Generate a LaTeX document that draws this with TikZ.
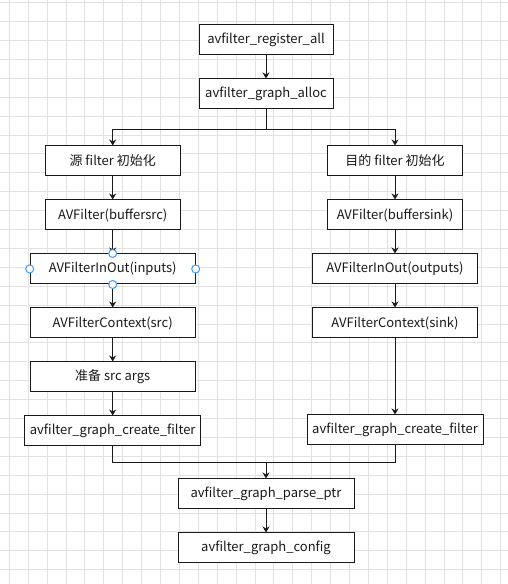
\documentclass[tikz,border=0pt]{standalone}
\usepackage{fontspec}
\setmainfont{Noto Sans CJK SC}
\usepackage{tikz}
\usetikzlibrary{arrows.meta, positioning}
\definecolor{ink}{HTML}{1A1A1A}
\definecolor{gridgray}{HTML}{E2E2E2}
\definecolor{handle}{HTML}{3D9BFF}

\begin{document}
\begin{tikzpicture}[
    x=1pt, y=1pt,
    node distance=23pt,
    n/.style={rectangle, draw=ink, fill=white, line width=1pt, text=ink,
              minimum width=134pt, minimum height=30pt, inner sep=0pt,
              font=\fontsize{13}{15}\selectfont},
    w/.style={n, minimum width=165pt},
    ww/.style={n, minimum width=176pt},
    e/.style={-{Stealth[length=6pt, width=7pt]}, line width=1pt, color=ink},
    l/.style={line width=1pt, color=ink},
    hdl/.style={circle, draw=handle, fill=white, line width=1pt,
                minimum size=8pt, inner sep=0pt}
]
\useasboundingbox (0,0) rectangle (508,584);
% grid
\foreach \i in {0,...,26}
  \draw[gridgray, line width=0.9pt] (9.3+18.9*\i,0) -- (9.3+18.9*\i,584);
\foreach \j in {0,...,30}
  \draw[gridgray, line width=0.9pt] (0,581.3-18.9*\j) -- (508,581.3-18.9*\j);

\node[n] (register) at (266,544) {avfilter\_register\_all};
\node[n, below=of register] (alloc) {avfilter\_graph\_alloc};

% src side
\node[n, minimum width=135pt] (srcinit) at (112.7,423) {源\ filter\ 初始化};
\node[n, minimum width=135pt, below=of srcinit] (srcfilt) {AVFilter(buffersrc)};
\node[w, below=of srcfilt] (inputs) {AVFilterInOut(inputs)};
\node[w, below=of inputs] (srcctx) {AVFilterContext(src)};
\node[w, below=of srcctx] (args) {准备\ src args};
\node[ww, below=of args] (srccreate) {avfilter\_graph\_create\_filter};

% sink side
\node[n, minimum width=135pt] (sinkinit) at (395,423) {目的\ filter\ 初始化};
\node[n, minimum width=135pt, below=of sinkinit] (sinkfilt) {AVFilter(buffersink)};
\node[w, below=of sinkfilt] (outputs) {AVFilterInOut(outputs)};
\node[w, below=of outputs] (sinkctx) {AVFilterContext(sink)};
\node[ww, below=76pt of sinkctx] (sinkcreate) {avfilter\_graph\_create\_filter};

\node[ww] (parse) at (266,90) {avfilter\_graph\_parse\_ptr};
\node[ww, below=of parse] (config) {avfilter\_graph\_config};

\coordinate (split) at (266,454);
\coordinate (merge) at (266,121);

\draw[e] (register) -- (alloc);
\draw[l] (alloc) -- (split);
\draw[e] (split) -| (srcinit);
\draw[e] (split) -| (sinkinit);
\draw[e] (srcinit) -- (srcfilt);
\draw[e] (srcfilt) -- (inputs);
\draw[e] (inputs) -- (srcctx);
\draw[e] (srcctx) -- (args);
\draw[e] (args) -- (srccreate);
\draw[e] (sinkinit) -- (sinkfilt);
\draw[e] (sinkfilt) -- (outputs);
\draw[e] (outputs) -- (sinkctx);
\draw[e] (sinkctx) -- (sinkcreate);
\draw[l] (srccreate) |- (merge);
\draw[l] (sinkcreate) |- (merge);
\draw[e] (merge) -- (parse);
\draw[e] (parse) -- (config);

\foreach \a in {north, south, east, west}
  \node[hdl] at (inputs.\a) {};
\end{tikzpicture}
\end{document}
